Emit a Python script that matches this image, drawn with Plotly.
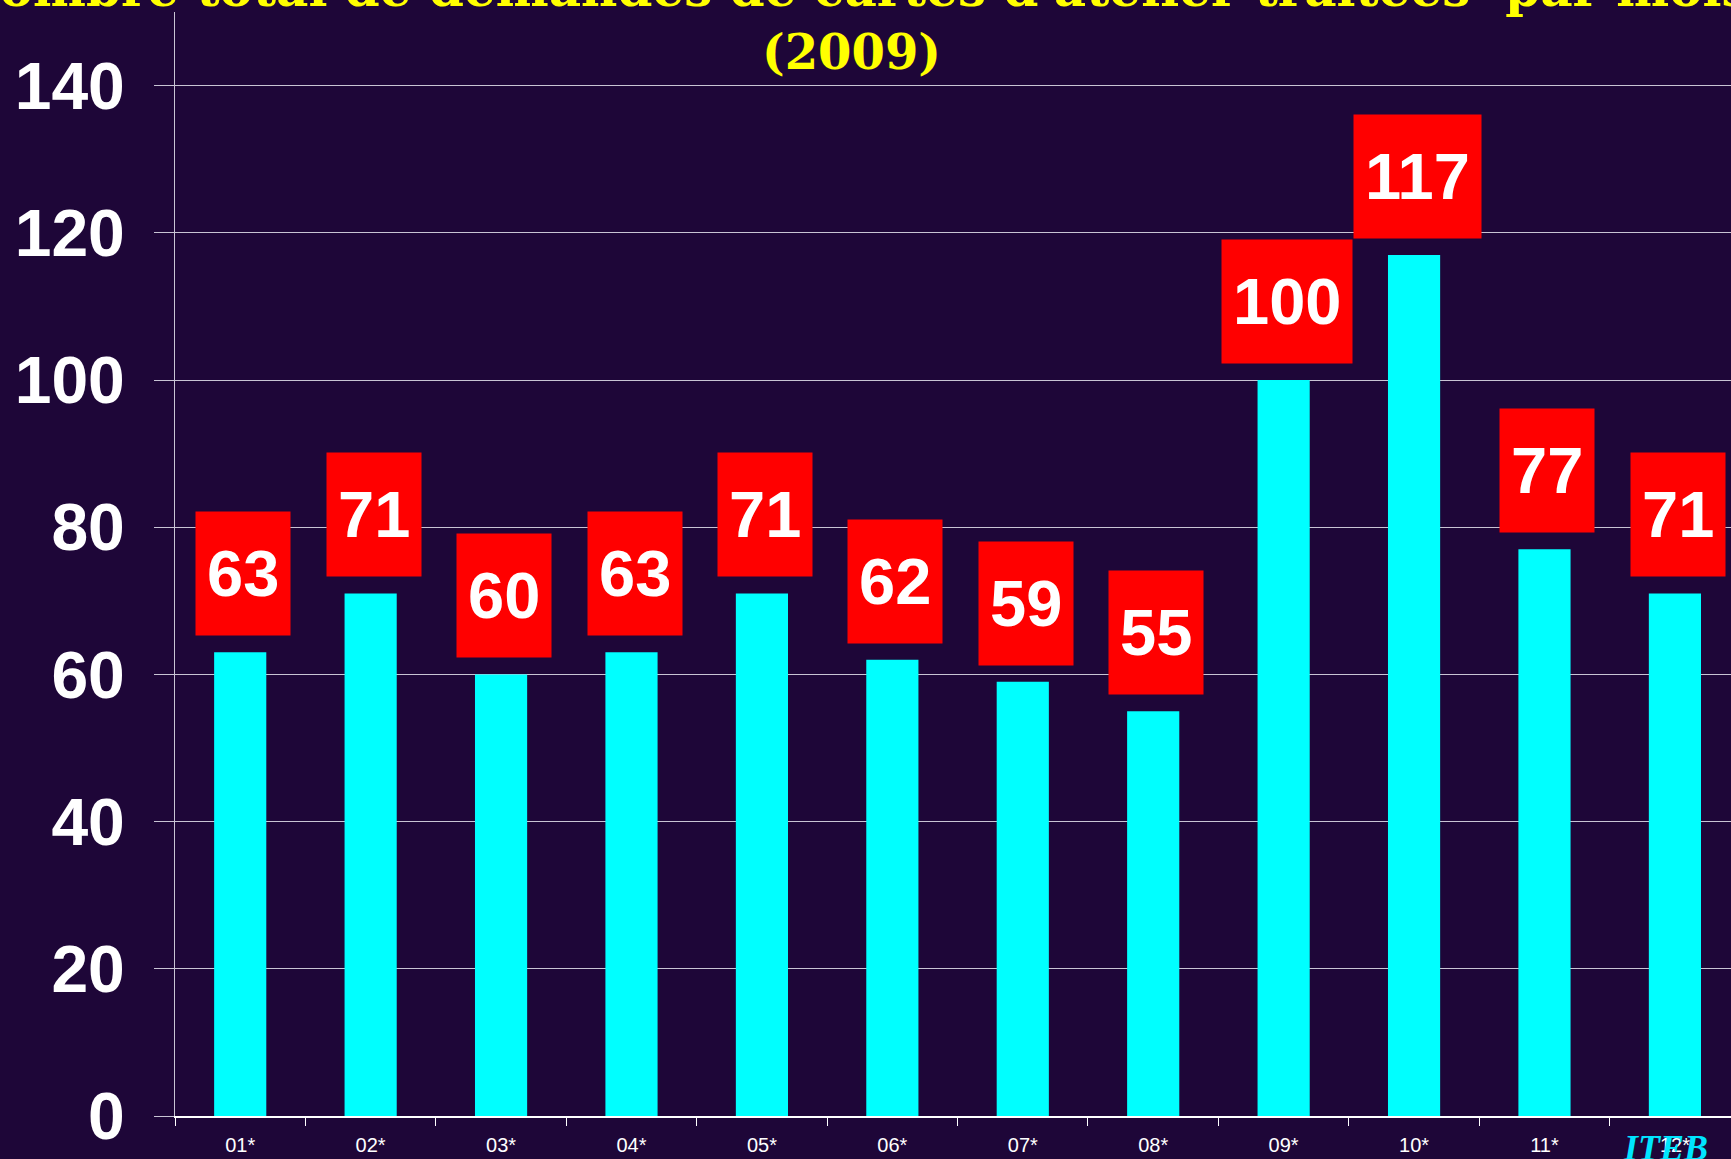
import plotly.graph_objects as go

# Monthly counts (2009)
months = ["01*", "02*", "03*", "04*", "05*", "06*", "07*", "08*", "09*", "10*", "11*", "12*"]
counts = [63, 71, 60, 63, 71, 62, 59, 55, 100, 117, 77, 71]

title_top = "Nombre total de demandes de cartes d'atelier traitées  par mois"
title_year = "(2009)"

fig = go.Figure()

fig.add_trace(go.Bar(x=months, y=counts, width=0.4, marker=dict(color="#00ffff", line=dict(width=0)),
                     hoverinfo="x+y"))

# Red value boxes above each bar
for m, c in zip(months, counts):
    fig.add_annotation(x=m, y=c, xref="x", yref="y", text=str(c), showarrow=False,
                       yanchor="bottom", yshift=16, xshift=3, bgcolor="#ff0000", borderpad=11, height=101,
                       font=dict(family="Arial, Liberation Sans", size=65, color="white", weight="bold"))

# Title (top line is cut off by the page edge)
fig.add_annotation(x=0.435, y=1, xref="paper", yref="paper", text="<b>" + title_top + "</b>", showarrow=False,
                   yanchor="bottom", xanchor="center", yshift=-8,
                   font=dict(family="DejaVu Serif", size=50, color="#ffff00"))
fig.add_annotation(x=0.435, y=144.5, xref="paper", yref="y", text="<b>" + title_year + "</b>", showarrow=False,
                   yanchor="middle", xanchor="center",
                   font=dict(family="DejaVu Serif", size=48, color="#ffff00"))

fig.add_annotation(x=0.958, y=0, xref="paper", yref="paper", text="<b><i>ITEB</i></b>", showarrow=False,
                   yanchor="middle", xanchor="center", yshift=-32,
                   font=dict(family="Liberation Serif", size=36, color="#00e5ff"))

fig.update_layout(
    width=1731, height=1159,
    margin=dict(l=175, r=0, t=12, b=43),
    paper_bgcolor="#1e0638",
    plot_bgcolor="rgba(0,0,0,0)",
    showlegend=False,
    bargap=0.6,
)

fig.update_yaxes(range=[0, 150], dtick=20, tick0=0, showgrid=True, gridcolor="rgba(230,230,240,0.85)", gridwidth=1,
                 ticks="outside", ticklen=20, tickcolor="rgba(230,230,240,0.85)",
                 showline=True, linecolor="rgba(230,230,240,0.85)", linewidth=1, zeroline=False,
                 ticklabelstandoff=16,
                 tickfont=dict(family="Arial, Liberation Sans", size=66, color="white", weight="bold"))

fig.update_xaxes(type="category", range=[-0.5, 11.43], tickson="boundaries", ticks="outside", ticklen=8,
                 tickcolor="white", showline=True, linecolor="white", linewidth=2, showgrid=False,
                 ticklabelstandoff=10,
                 tickfont=dict(family="Arial, Liberation Sans", size=20, color="white"))

# drop the default page margin so the figure fills the window
fig.write_html("out.html", config={"displayModeBar": False},
               post_script="document.body.style.margin='0';")
